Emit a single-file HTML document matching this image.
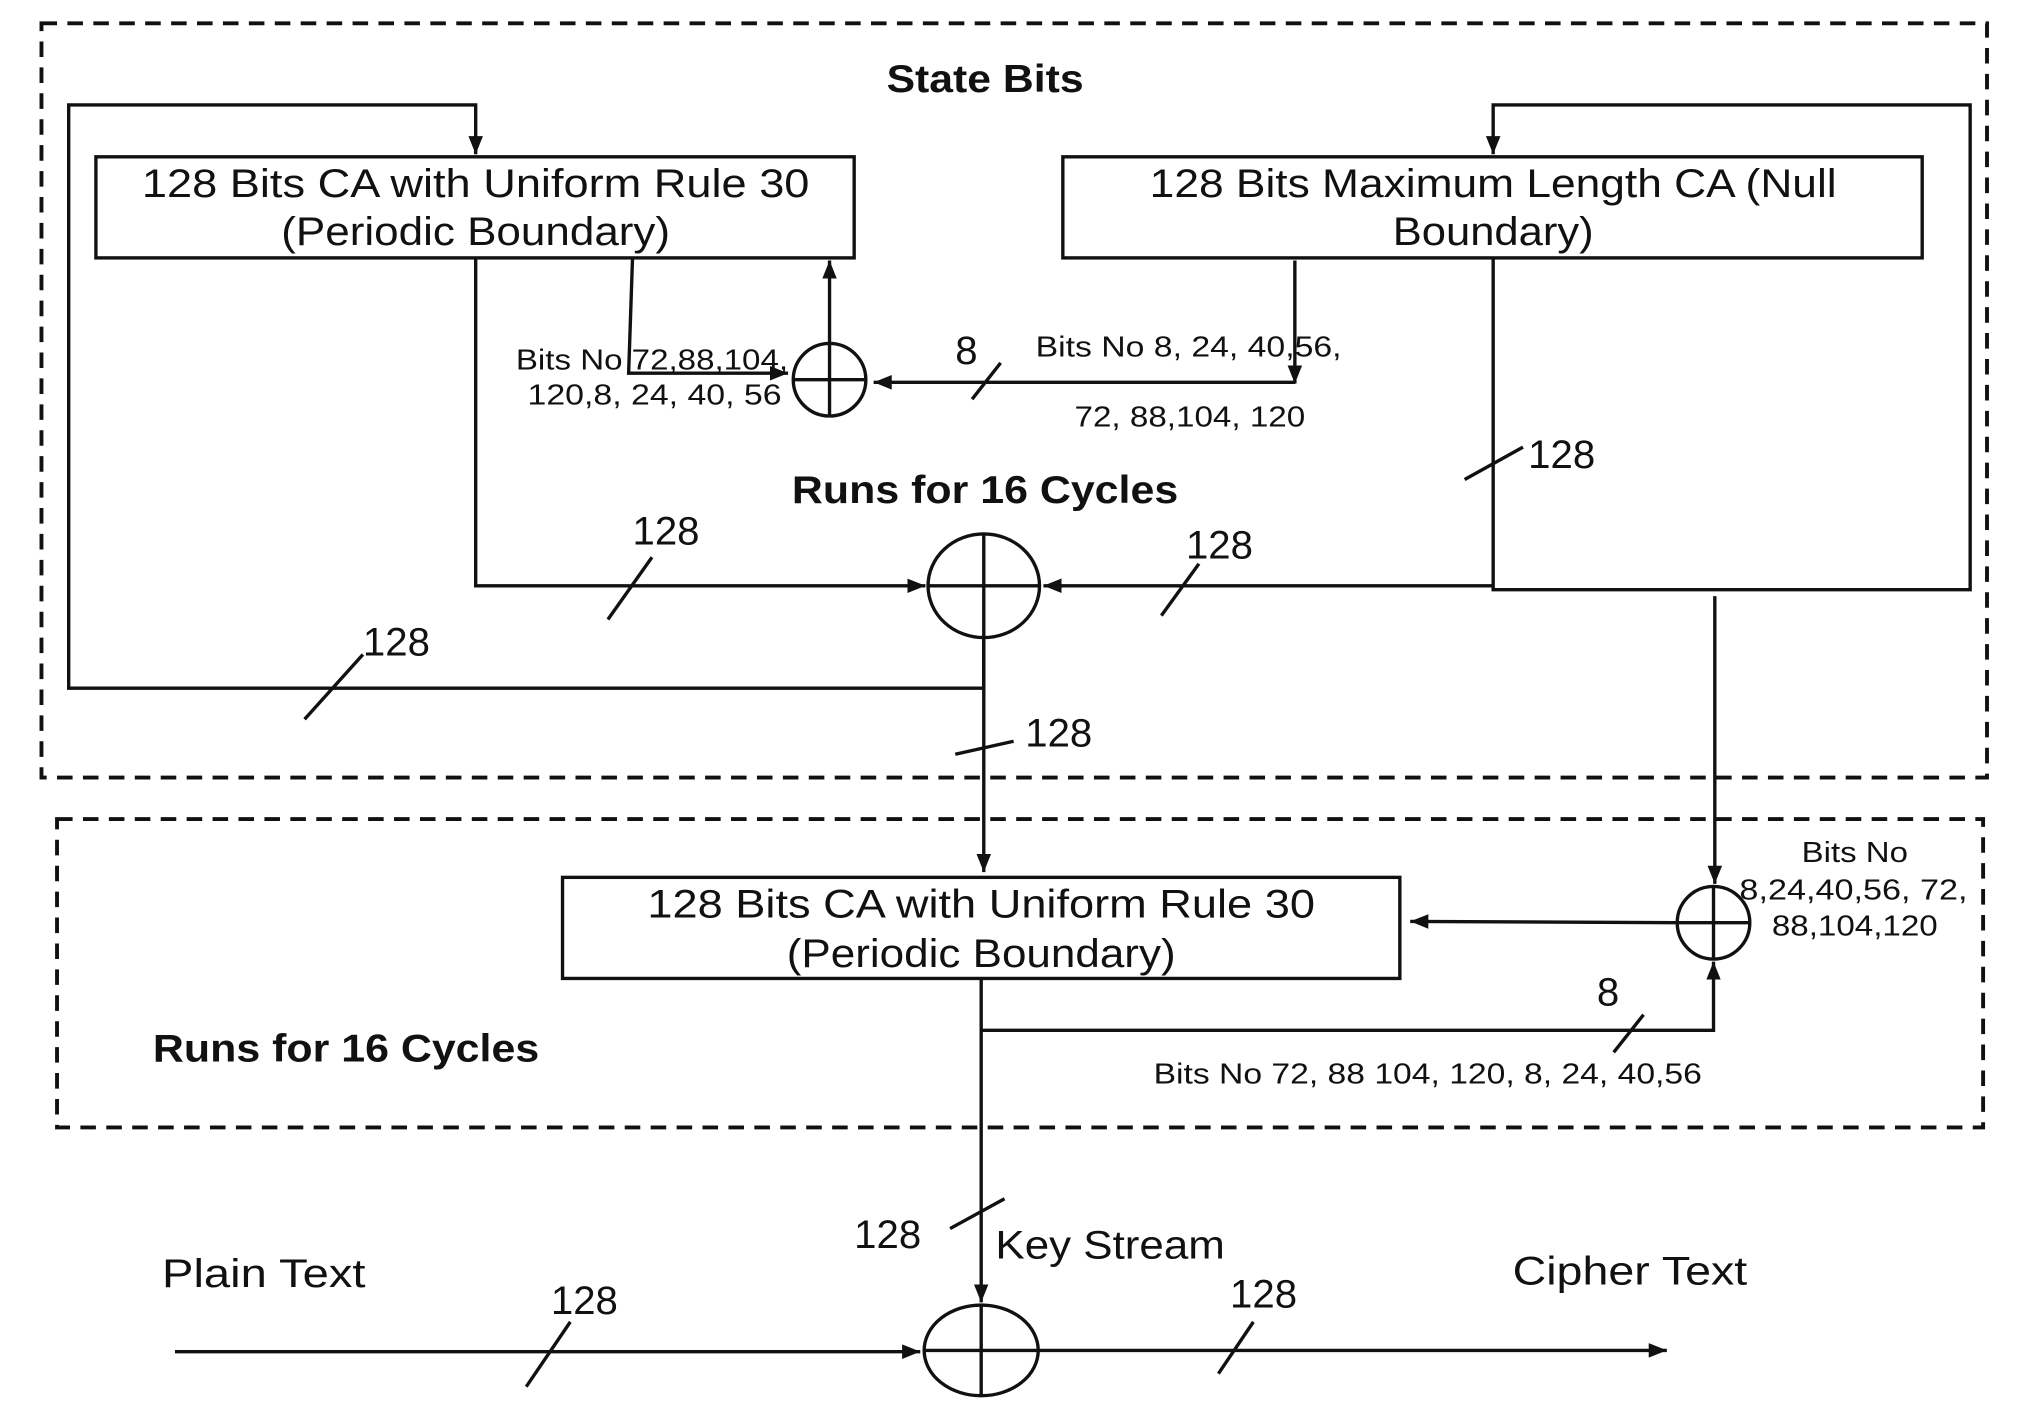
<!DOCTYPE html>
<html><head><meta charset="utf-8"><style>
html,body{margin:0;padding:0;background:#fff;width:2022px;height:1410px;overflow:hidden}
svg{display:block}
text{font-family:"Liberation Sans",sans-serif;fill:#111}
</style></head><body>
<svg width="2022" height="1410" viewBox="0 0 1560 1088" preserveAspectRatio="none" xmlns="http://www.w3.org/2000/svg">
<defs>
<marker id="a" viewBox="0 0 10 10" refX="10" refY="5" markerWidth="5" markerHeight="5" orient="auto" markerUnits="userSpaceOnUse"><path d="M0,0 L10,5 L0,10 z" fill="#111"/></marker>
<marker id="b" viewBox="0 0 10 10" refX="10" refY="5" markerWidth="14" markerHeight="14" orient="auto" markerUnits="userSpaceOnUse"><path d="M0,1 L10,5 L0,9 z" fill="#111"/></marker>
</defs>
<g fill="none" stroke="#111" stroke-width="3">
<rect x="32" y="18" width="1501" height="582" stroke-dasharray="12,8"/>
<rect x="44" y="632" width="1486" height="238" stroke-dasharray="12,8"/>
</g>
<g fill="none" stroke="#111" stroke-width="2.6">
<rect x="74" y="121" width="585" height="78"/>
<rect x="820" y="121" width="663" height="78"/>
<rect x="434" y="677" width="646" height="78"/>
<ellipse cx="759" cy="452" rx="43" ry="40"/>
<line x1="716" y1="452" x2="802" y2="452"/><line x1="759" y1="412" x2="759" y2="492"/>
<circle cx="640" cy="293" r="28"/>
<line x1="612" y1="293" x2="668" y2="293"/><line x1="640" y1="265" x2="640" y2="321"/>
<circle cx="1322" cy="712" r="28"/>
<line x1="1294" y1="712" x2="1350" y2="712"/><line x1="1322" y1="684" x2="1322" y2="740"/>
<ellipse cx="757" cy="1042" rx="44" ry="35"/>
<line x1="713" y1="1042" x2="801" y2="1042"/><line x1="757" y1="1007" x2="757" y2="1077"/>
<!-- left loop -->
<polyline points="759,492 759,531 53,531 53,81 367,81 367,119" marker-end="url(#b)"/>
<!-- right loop -->
<polyline points="1152,199 1152,455 1520,455 1520,81 1152,81 1152,119" marker-end="url(#b)"/>
<polyline points="1152,452 805,452" marker-end="url(#b)"/>
<polyline points="367,199 367,452 714,452" marker-end="url(#b)"/>
<polyline points="640,265 640,201" marker-end="url(#b)"/>
<polyline points="488,199 485,288 608,288" marker-end="url(#b)"/>
<polyline points="999,201 999,296" marker-end="url(#b)"/>
<polyline points="999,295 674,295" marker-end="url(#b)"/>
<polyline points="759,492 759,673" marker-end="url(#b)"/>
<polyline points="1323,460 1323,682" marker-end="url(#b)"/>
<polyline points="1294,712 1088,711" marker-end="url(#b)"/>
<polyline points="757,755 757,795 1322,795 1322,742" marker-end="url(#b)"/>
<polyline points="757,795 757,1005" marker-end="url(#b)"/>
<polyline points="135,1043 710,1043" marker-end="url(#b)"/>
<polyline points="801,1042 1286,1042" marker-end="url(#b)"/>
<!-- slashes -->
<line x1="750" y1="308" x2="772" y2="280"/>
<line x1="469" y1="478" x2="503" y2="430"/>
<line x1="896" y1="475" x2="925" y2="435"/>
<line x1="1130" y1="370" x2="1175" y2="345"/>
<line x1="235" y1="555" x2="280" y2="505"/>
<line x1="737" y1="582" x2="782" y2="572"/>
<line x1="1245" y1="812" x2="1268" y2="783"/>
<line x1="733" y1="948" x2="775" y2="925"/>
<line x1="406" y1="1070" x2="440" y2="1020"/>
<line x1="940" y1="1060" x2="967" y2="1020"/>
</g>
<g font-size="31" text-anchor="middle">
<text x="367" y="152" textLength="515" lengthAdjust="spacingAndGlyphs">128 Bits CA with Uniform Rule 30</text>
<text x="367" y="189" textLength="300" lengthAdjust="spacingAndGlyphs">(Periodic Boundary)</text>
<text x="1152" y="152" textLength="530" lengthAdjust="spacingAndGlyphs">128 Bits Maximum Length CA (Null</text>
<text x="1152" y="189" textLength="155" lengthAdjust="spacingAndGlyphs">Boundary)</text>
<text x="757" y="708" textLength="515" lengthAdjust="spacingAndGlyphs">128 Bits CA with Uniform Rule 30</text>
<text x="757" y="746" textLength="300" lengthAdjust="spacingAndGlyphs">(Periodic Boundary)</text>
</g>
<g font-size="30" font-weight="bold">
<text x="760" y="71" text-anchor="middle" textLength="152" lengthAdjust="spacingAndGlyphs">State Bits</text>
<text x="760" y="388" text-anchor="middle" textLength="298" lengthAdjust="spacingAndGlyphs">Runs for 16 Cycles</text>
<text x="118" y="819" textLength="298" lengthAdjust="spacingAndGlyphs">Runs for 16 Cycles</text>
</g>
<g font-size="22">
<text x="398" y="285" textLength="210" lengthAdjust="spacingAndGlyphs">Bits No 72,88,104,</text>
<text x="407" y="312" textLength="196" lengthAdjust="spacingAndGlyphs">120,8, 24, 40, 56</text>
<text x="799" y="275" textLength="236" lengthAdjust="spacingAndGlyphs">Bits No 8, 24, 40,56,</text>
<text x="829" y="329" textLength="178" lengthAdjust="spacingAndGlyphs">72, 88,104, 120</text>
<text x="890" y="836" textLength="423" lengthAdjust="spacingAndGlyphs">Bits No 72, 88 104, 120, 8, 24, 40,56</text>
<text x="1431" y="665" text-anchor="middle" textLength="82" lengthAdjust="spacingAndGlyphs">Bits No</text>
<text x="1430" y="694" text-anchor="middle" textLength="176" lengthAdjust="spacingAndGlyphs">8,24,40,56, 72,</text>
<text x="1431" y="722" text-anchor="middle" textLength="128" lengthAdjust="spacingAndGlyphs">88,104,120</text>
</g>
<g font-size="31">
<text x="737" y="281">8</text>
<text x="1232" y="776">8</text>
<text x="488" y="420">128</text>
<text x="915" y="431">128</text>
<text x="1179" y="361">128</text>
<text x="280" y="506">128</text>
<text x="791" y="576">128</text>
<text x="659" y="963">128</text>
<text x="425" y="1014">128</text>
<text x="949" y="1009">128</text>
<text x="768" y="971" textLength="177" lengthAdjust="spacingAndGlyphs">Key Stream</text>
<text x="125" y="993" textLength="157" lengthAdjust="spacingAndGlyphs">Plain Text</text>
<text x="1167" y="991" textLength="181" lengthAdjust="spacingAndGlyphs">Cipher Text</text>
</g>
</svg>
</body></html>
